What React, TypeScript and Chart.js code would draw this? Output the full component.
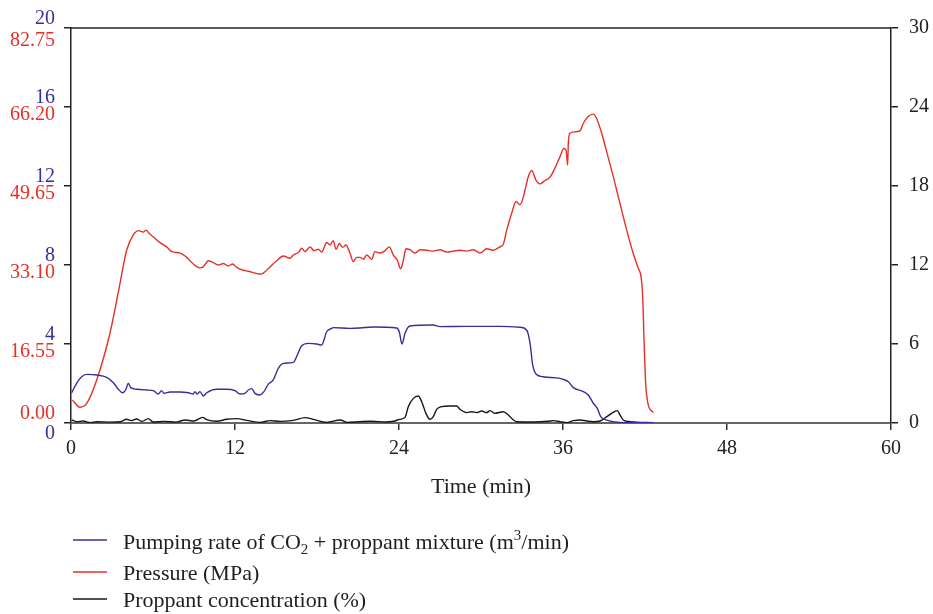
import React, { useEffect, useRef } from "react";
import { Chart, registerables } from "chart.js";

Chart.register(...registerables);

// ---- axis ticks / labels ----
const rateTicks = [0, 4, 8, 12, 16, 20];
const pressureTickLabels = ["0.00", "16.55", "33.10", "49.65", "66.20", "82.75"];
const timeMax = 60;
const timeStep = 12;
const concMax = 30;
const concStep = 6;
const pressureMax = 82.75;
const rateMax = 20;

// ---- series: pumping rate (m3/min) ----
const rateTime = [
  0.05, 0.41, 0.78, 1.15, 1.88, 2.61, 3.1, 3.46, 3.78, 4.02, 4.19, 4.37, 4.8, 5.54, 6.02, 6.39, 6.63, 6.8,
  7.24, 7.98, 8.59, 8.95, 9.07, 9.24, 9.44, 9.68, 9.93, 10.66, 11.39, 12.0, 12.37, 12.73, 12.97, 13.22,
  13.46, 13.78, 14.12, 14.44, 14.8, 15.17, 15.54, 16.27, 16.56, 16.88, 17.37, 17.98, 18.34, 18.71, 19.07,
  19.19, 20.41, 21.15, 22.12, 23.83, 24.02, 24.22, 24.44, 24.8, 26.51, 27.0, 28.95, 31.39, 32.85, 33.34,
  33.59, 33.78, 34.02, 34.56, 35.78, 36.02, 36.39, 36.76, 37.49, 37.85, 38.22, 38.51, 38.76, 39.2, 40.17,
  42.61,
];
const rateValues = [
  1.53, 2.01, 2.34, 2.46, 2.43, 2.31, 2.04, 1.71, 1.53, 1.71, 2.01, 1.79, 1.71, 1.67, 1.64, 1.47, 1.64, 1.5,
  1.57, 1.57, 1.53, 1.47, 1.59, 1.47, 1.59, 1.37, 1.53, 1.71, 1.71, 1.64, 1.47, 1.5, 1.67, 1.74,
  1.5, 1.42, 1.59, 1.97, 2.18, 2.77, 3.02, 3.07, 3.44, 3.91, 4.03, 4.0, 3.95, 4.62, 4.79,
  4.83, 4.79, 4.81, 4.86, 4.81, 4.62, 4.0, 4.54, 4.91, 4.96, 4.88, 4.89, 4.89, 4.85, 4.71,
  4.03, 2.95, 2.48, 2.34, 2.26, 2.21, 2.09, 1.79, 1.59, 1.42, 1.0, 0.74, 0.32, 0.15, 0.03,
  0.01,
];

// ---- series: pressure (MPa) ----
const pressureTime = [
  0.1, 0.66, 1.15, 1.88, 2.85, 3.59, 4.07, 4.56, 4.93, 5.29, 5.49, 5.73, 6.02, 6.51, 7.0, 7.37, 7.98, 8.47,
  8.95, 9.44, 9.68, 10.05, 10.41, 10.78, 11.14, 11.51, 11.83, 12.12, 12.61, 12.97, 13.34, 13.83, 14.07,
  14.56, 15.05, 15.54, 16.02, 16.27, 16.63, 16.88, 17.12, 17.49, 17.78, 18.1, 18.34, 18.71, 18.95, 19.19,
  19.39, 19.63, 19.88, 20.12, 20.41, 20.66, 20.9, 21.15, 21.39, 21.64, 22.0, 22.24, 22.61, 22.98, 23.29,
  23.58, 23.88, 24.12, 24.32, 24.51, 24.8, 25.17, 25.54, 26.03, 26.51, 27.0, 27.49, 27.97, 28.46, 28.95,
  29.44, 29.93, 30.42, 30.9, 31.39, 31.63, 31.88, 32.24, 32.56, 32.85, 33.1, 33.46, 33.71, 34.02, 34.32,
  34.68, 35.05, 35.41, 35.78, 36.07, 36.22, 36.34, 36.39, 36.51, 36.88, 37.24, 37.49, 37.85, 38.22, 38.46,
  38.83, 39.2, 39.68, 40.17, 40.66, 41.14, 41.51, 41.71, 41.83, 41.93, 42.05, 42.24, 42.61,
];
const pressureValues = [
  4.8, 3.3, 4.1, 9.0, 18.8, 29.3, 36.2, 39.4, 40.3, 40.0, 40.4, 39.7, 39.0, 37.8, 36.9, 35.9, 35.6, 34.7,
  33.3, 32.5, 32.7, 34.0, 33.6, 33.1, 33.4, 32.9, 33.3, 32.6, 32.0, 31.8, 31.5, 31.2, 31.4,
  32.7, 34.0, 35.0, 34.5, 35.2, 35.7, 36.6, 35.9, 36.9, 36.1, 36.4, 35.8, 37.8, 37.3, 38.2,
  36.4, 37.6, 36.8, 37.3, 35.6, 33.8, 34.7, 34.7, 34.3, 35.2, 34.3, 35.9, 35.6, 36.1, 36.9,
  35.2, 34.1, 32.3, 34.1, 36.5, 36.3, 35.6, 36.3, 36.2, 36.0, 36.3, 35.8, 36.0, 36.2, 36.0,
  36.3, 35.6, 36.5, 36.2, 36.9, 37.4, 40.4, 43.9, 46.4, 45.7, 47.4, 51.6, 52.9, 50.9, 50.1,
  50.8, 51.5, 53.4, 55.8, 57.5, 57.2, 54.0, 58.7, 60.7, 61.0, 61.2, 62.8, 64.2, 64.7, 63.8,
  60.7, 56.8, 51.6, 46.0, 40.4, 35.5, 32.4, 30.6, 26.5, 17.4, 8.3, 3.8, 2.2,
];

// ---- series: proppant concentration (%) ----
const concTime = [
  0.05, 0.41, 0.9, 1.4, 1.9, 2.9, 3.6, 4.07, 4.4, 4.8, 5.2, 5.66, 6.0, 6.8, 7.7, 8.35, 9.0, 9.63, 9.93,
  10.66, 11.39, 12.12, 12.85, 13.83, 14.56, 15.3, 16.27, 17.12, 17.73, 18.71, 19.69, 20.2, 21.15, 22.0,
  23.0, 23.6, 24.07, 24.44, 24.68, 25.05, 25.41, 25.66, 25.97, 26.27, 26.51, 26.76, 27.12, 27.73, 28.22,
  28.46, 28.95, 29.32, 29.68, 30.05, 30.42, 30.66, 31.02, 31.63, 32.0, 32.37, 32.61, 33.9, 34.9, 35.3,
  35.78, 36.27, 36.76, 37.24, 37.73, 38.22, 38.71, 39.2, 39.68, 39.97, 40.17, 40.41, 40.9, 42.61,
];
const concValues = [
  0.23, 0.1, 0.15, 0.03, 0.1, 0.07, 0.1, 0.28, 0.18, 0.3, 0.12, 0.33, 0.08, 0.12, 0.07, 0.23, 0.15, 0.43, 0.25,
  0.13, 0.28, 0.33, 0.2, 0.05, 0.18, 0.12, 0.2, 0.41, 0.28, 0.05, 0.23, 0.05, 0.1, 0.13,
  0.08, 0.13, 0.28, 0.43, 1.24, 1.87, 2.05, 1.62, 0.73, 0.28, 0.48, 1.04, 1.24, 1.29, 1.29,
  1.04, 0.79, 0.86, 0.79, 0.91, 0.79, 0.94, 0.73, 0.86, 0.61, 0.23, 0.1, 0.08, 0.13, 0.18,
  0.1, 0.03, 0.18, 0.23, 0.15, 0.1, 0.15, 0.48, 0.81, 0.94, 0.61, 0.23, 0.1, 0.02,
];

const seriesLabels = [
  "Pumping rate of CO2 + proppant mixture (m3/min)",
  "Pressure (MPa)",
  "Proppant concentration (%)",
];
// rich-text parts for the legend: [text, kind]
const legendRich: Array<Array<[string, "n" | "sub" | "sup"]>> = [
  [["Pumping rate of CO", "n"], ["2", "sub"], [" + proppant mixture (m", "n"], ["3", "sup"], ["/min)", "n"]],
  [["Pressure (MPa)", "n"]],
  [["Proppant concentration (%)", "n"]],
];

const BLUE = "#34309b";
const RED = "#e5302a";
const BLACK = "#161616";
const AXIS = "#222222";
const SERIF = "'Liberation Serif', 'DejaVu Serif', 'Times New Roman', serif";

const toPoints = (xs: number[], ys: number[]) => xs.map((x, i) => ({ x, y: ys[i] }));

const leftLabelsPlugin = {
  id: "leftLabels",
  afterDraw(chart: any) {
    const { ctx, chartArea } = chart;
    const ys = chart.scales.y;
    ctx.save();
    // top frame line
    ctx.strokeStyle = AXIS;
    ctx.lineWidth = 1.5;
    ctx.beginPath();
    ctx.moveTo(chartArea.left, chartArea.top);
    ctx.lineTo(chartArea.right, chartArea.top);
    ctx.stroke();

    ctx.font = `20px ${SERIF}`;
    ctx.textAlign = "right";
    ctx.textBaseline = "middle";
    const x = chartArea.left - 16;
    rateTicks.forEach((v, i) => {
      const py = ys.getPixelForValue(v);
      if (i === 0) {
        ctx.fillStyle = RED;
        ctx.fillText(pressureTickLabels[i], x, py - 9);
        ctx.fillStyle = BLUE;
        ctx.fillText(String(v), x, py + 11);
      } else {
        ctx.fillStyle = BLUE;
        ctx.fillText(String(v), x, py - 9);
        ctx.fillStyle = RED;
        ctx.fillText(pressureTickLabels[i], x, py + (i === rateTicks.length - 1 ? 13 : 8));
      }
    });
    ctx.restore();
  },
};

const legendPlugin = {
  id: "richLegend",
  afterDraw(chart: any) {
    const { ctx, chartArea } = chart;
    const lineYs = [540, 572, 599];
    const baseYs = [549, 580, 607];
    ctx.save();
    chart.data.datasets.forEach((ds: any, i: number) => {
      ctx.strokeStyle = ds.borderColor;
      ctx.lineWidth = 1.5;
      ctx.beginPath();
      ctx.moveTo(chartArea.left + 2, lineYs[i]);
      ctx.lineTo(chartArea.left + 36, lineYs[i]);
      ctx.stroke();
      let x = chartArea.left + 52;
      ctx.fillStyle = "#1e1e1e";
      ctx.textAlign = "left";
      ctx.textBaseline = "alphabetic";
      legendRich[i].forEach(([txt, kind]) => {
        let dy = 0;
        if (kind === "n") ctx.font = `22px ${SERIF}`;
        else {
          ctx.font = `15px ${SERIF}`;
          dy = kind === "sub" ? 5 : -9;
        }
        ctx.fillText(txt, x, baseYs[i] + dy);
        x += ctx.measureText(txt).width;
      });
    });
    ctx.restore();
  },
};

export default function App() {
  const ref = useRef<HTMLCanvasElement>(null);
  useEffect(() => {
    const tickFont = { family: SERIF, size: 20 };
    const grid = { drawOnChartArea: false, drawTicks: true, tickLength: 7, color: AXIS, lineWidth: 1.5 };
    const chart = new Chart(ref.current as HTMLCanvasElement, {
      type: "line",
      data: {
        datasets: [
          {
            label: seriesLabels[0],
            data: toPoints(rateTime, rateValues),
            borderColor: BLUE,
            yAxisID: "y",
          },
          {
            label: seriesLabels[1],
            data: toPoints(pressureTime, pressureValues),
            borderColor: RED,
            yAxisID: "yP",
          },
          {
            label: seriesLabels[2],
            data: toPoints(concTime, concValues),
            borderColor: BLACK,
            yAxisID: "yC",
          },
        ],
      },
      options: {
        animation: false,
        responsive: false,
        parsing: true,
        elements: {
          point: { radius: 0 },
          line: { borderWidth: 1.4, cubicInterpolationMode: "monotone", fill: false },
        },
        layout: { padding: { top: 28, bottom: 111, left: 0, right: 0 } },
        plugins: { legend: { display: false }, tooltip: { enabled: false } },
        scales: {
          x: {
            type: "linear",
            min: 0,
            max: timeMax,
            ticks: { stepSize: timeStep, font: tickFont, color: AXIS, padding: 7 },
            grid: { ...grid, color: "#333" },
            border: { display: true, color: "#666", width: 2 },
            title: {
              display: true,
              text: "Time (min)",
              font: { family: SERIF, size: 22 },
              color: AXIS,
              padding: { top: 0, bottom: 3 },
            },
            afterFit: (s: any) => {
              s.height = 80;
            },
          },
          y: {
            type: "linear",
            position: "left",
            min: 0,
            max: rateMax,
            ticks: { stepSize: 4, display: false },
            grid,
            border: { display: true, color: AXIS, width: 1.5 },
            afterFit: (s: any) => {
              s.width = 71;
            },
          },
          yP: {
            type: "linear",
            display: false,
            min: 0,
            max: pressureMax,
          },
          yC: {
            type: "linear",
            position: "right",
            min: 0,
            max: concMax,
            ticks: { stepSize: concStep, font: tickFont, color: AXIS, padding: 11 },
            grid,
            border: { display: true, color: AXIS, width: 1.5 },
            afterFit: (s: any) => {
              s.width = 42;
            },
          },
        },
      } as any,
      plugins: [leftLabelsPlugin, legendPlugin],
    });
    return () => chart.destroy();
  }, []);
  return (
    <div style={{ position: "absolute", left: 0, top: 0, width: 933, height: 614, background: "#fff" }}>
      <canvas ref={ref} width={933} height={614} />
    </div>
  );
}
